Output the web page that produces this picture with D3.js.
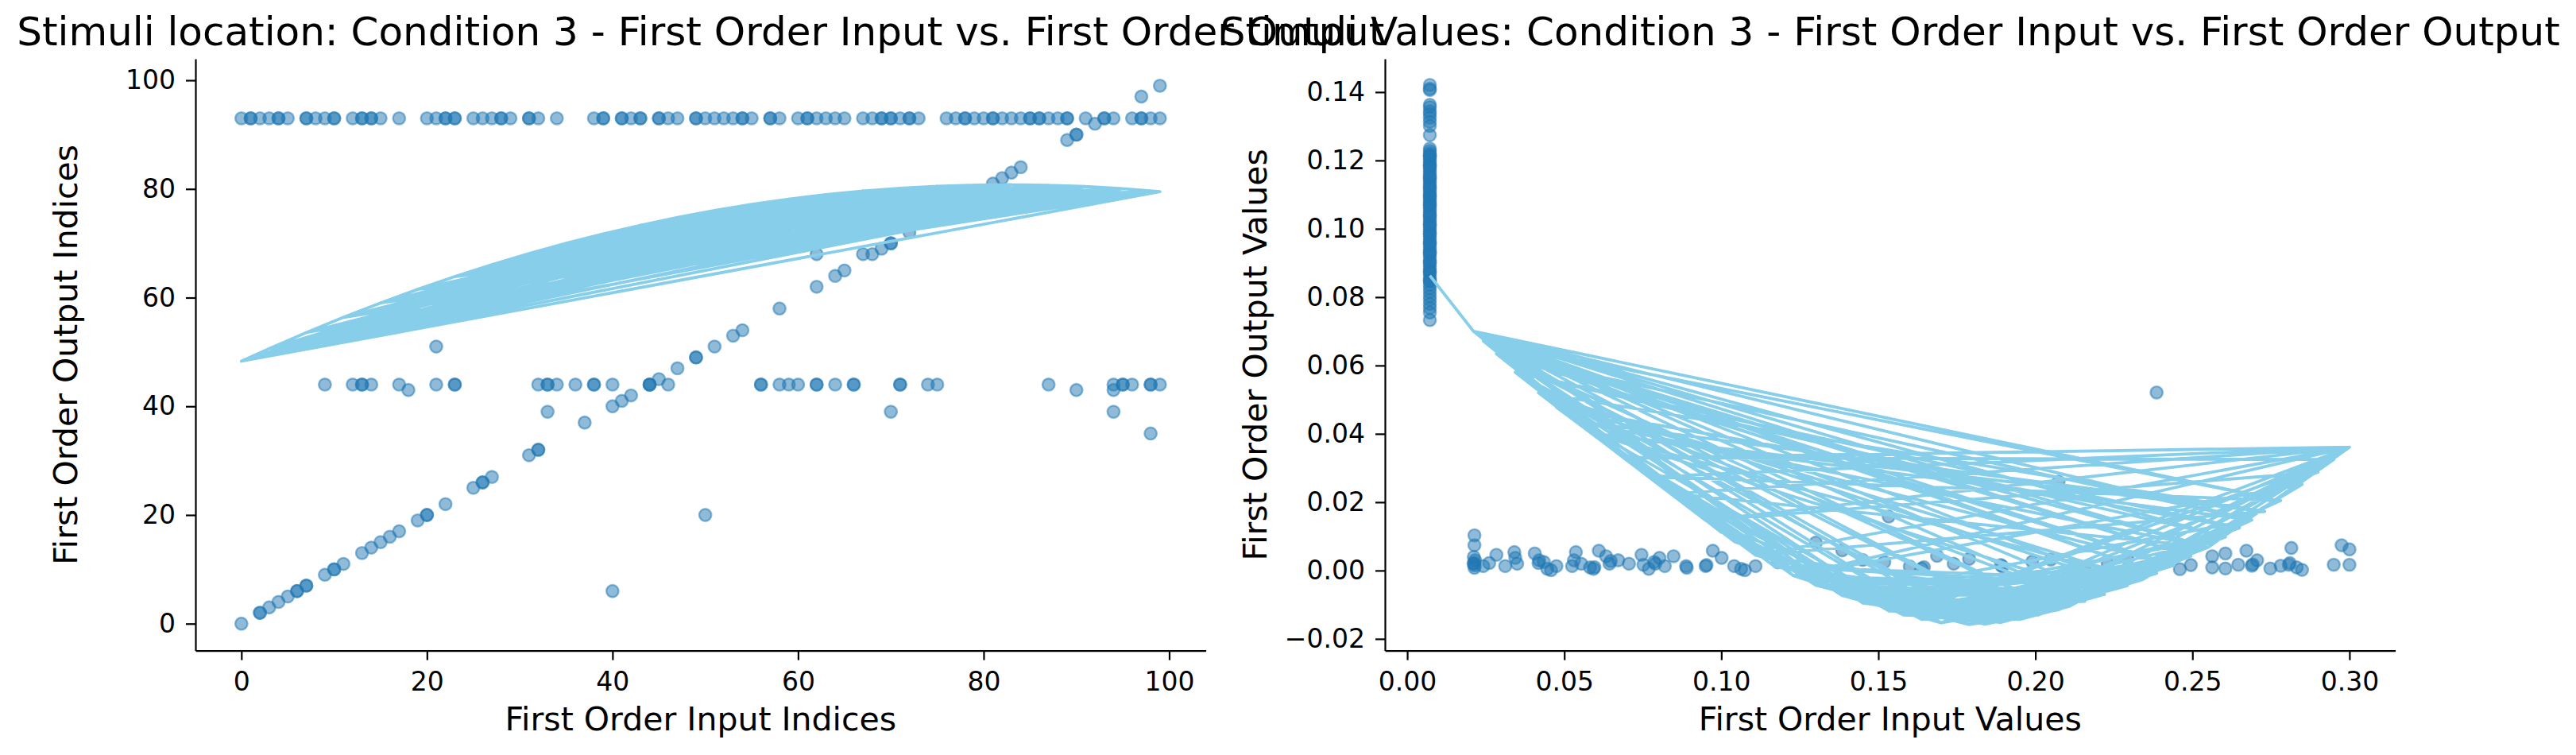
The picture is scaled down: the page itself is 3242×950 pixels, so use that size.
<!DOCTYPE html>
<html>
<head>
<meta charset="utf-8">
<script src="https://cdn.jsdelivr.net/npm/d3@7"></script>
<style>
  body { margin: 0; background: #fff; }
  text { font-family: "DejaVu Sans", sans-serif; fill: #000; }
</style>
</head>
<body>
<script>
// ---- left panel: stimuli location (indices) ----
const leftTopRowInput = [0,1,1,2,3,4,4,5,7,7,8,9,10,10,12,13,13,14,14,15,17,20,21,22,22,23,23,25,26,27,28,28,29,31,31,32,34,38,39,39,41,41,42,43,43,45,45,46,47,49,49,50,51,52,53,54,54,55,57,57,58,60,61,61,62,63,64,65,67,68,69,69,70,70,71,72,72,73,76,77,78,78,79,80,81,81,82,83,84,85,85,86,86,87,88,89,89,91,93,93,94,96,97,97,98,99];
const leftTopRowOutput = 93;
const leftMidRowInput = [9,12,13,13,14,17,21,23,23,32,33,33,34,36,38,38,40,44,44,46,56,56,58,59,60,62,62,64,66,66,71,71,74,75,87,94,95,95,96,98,98,99];
const leftMidRowOutput = 44;
const leftOtherInput  = [0,2,2,3,4,5,6,6,7,7,9,10,10,11,13,14,15,16,17,19,20,20,22,25,26,26,27,31,32,32,37,40,41,42,44,45,47,49,49,51,53,54,58,62,64,65,67,68,69,70,70,72,75,77,81,82,83,84,89,90,90,92,97,99,21,33,40,50,62,18,70,94,98,90,94];
const leftOtherOutput = [0,2,2,3,4,5,6,6,7,7,9,10,10,11,13,14,15,16,17,19,20,20,22,25,26,26,27,31,32,32,37,40,41,42,44,45,47,49,49,51,53,54,58,62,64,65,68,68,69,70,70,72,75,77,81,82,83,84,89,90,90,92,97,99,51,39,6,20,68,43,39,39,35,43,43];
// fitted curve read at these input indices, joined in plotting order
const leftFitInput  = [0,3,7,11,15,19,23,27,31,35,39,43,47,51,55,59,63,67,71,75,79,83,87,91,95,99];
const leftFitOutput = [48.30,50.62,53.57,56.37,59.02,61.52,63.87,66.06,68.10,69.99,71.73,73.31,74.74,76.02,77.15,78.13,78.95,79.62,80.14,80.50,80.72,80.78,80.69,80.44,80.05,79.50];
const leftFitOrder = [0,25,3,18,7,22,1,14,25,9,20,4,16,11,24,2,19,6,13,23,0,17,10,25,5,21,8,15,12,24,1,20,3,22,9,17,6,25,11,19,2,23,14,7,21,0,16,13,24,4,18,10,22,5,25,12,20,8,23,1,15,19,3,24,6,17,9,21,11,25,0,14,18,2,22,13,16,7,20,4,24,10,19,12,23,5,17,8,25,15,21,1,18,9,22,3,16,11,24,6,20,14,0,19,13,25,7,23,2,17,10,21,4,15,8,22,12,18,5,24,
  5,23,0,12,19,3,25,8,16,1,21,10,24,2,18,13,25,6,20,0,22,9,15,4,23,11,17,0,24,7,19,14,25,3,20,12,22,1,16,9,25,5,18,0,21,13,24,8,17,2,23,10,19,6,25,4,15,11,22,0,20,7,24,14,18,3,21,9,25,12,16,1,23,5,19,0,25,10,22,8,24,2,17,13,20,6,21,4,25,11,18,
  0,1,2,3,4,5,6,7,8,9,10,11,12,13,14,15,16,17,18,19,20,21,22,23,24,25];
const leftXTicks = [0,20,40,60,80,100];
const leftYTicks = [0,20,40,60,80,100];

// ---- right panel: stimuli values ----
const rightColumnInput = 0.0072;
const rightColumnOutput = [0.1421,0.1410,0.1406,0.1363,0.1356,0.1344,0.1336,0.1325,0.1313,0.1301,0.1274,
  0.1235,0.1228,0.1221,0.1215,0.1209,0.1202,0.1196,0.1188,0.1181,0.1175,0.1168,0.1160,0.1153,0.1147,0.1139,0.1132,0.1126,0.1119,0.1111,0.1104,0.1098,0.1090,0.1083,0.1077,0.1070,0.1062,0.1055,0.1049,0.1041,0.1034,0.1027,0.1020,0.1013,0.1006,0.0999,0.0992,0.0985,0.0977,0.0970,0.0962,0.0955,0.0947,0.0940,0.0932,0.0925,0.0917,0.0908,0.0899,0.0890,0.0882,0.0873,0.0864,0.0855,0.0846,0.0836,0.0826,0.0815,0.0803,0.0792,0.0780,0.0768,0.0755,0.0733,
  0.1214,0.1185,0.1150,0.1122,0.1095,0.1068,0.1040,0.1012,0.0985,0.0958,0.0930,0.0902,0.0875,0.0848];
const rightLowInput = [0.0214,0.0214,0.0212,0.0216,0.0213,0.0215,0.0214,0.0211,0.0242,0.0261,0.0284,0.0312,0.0341,0.0344,0.0350,0.0406,0.0418,0.0420,0.0435,0.0446,0.0458,0.0475,0.0525,0.0531,0.0537,0.0554,0.0582,0.0593,0.0596,0.0610,0.0633,0.0644,0.0648,0.0672,0.0706,0.0746,0.0752,0.0769,0.0786,0.0790,0.0803,0.0820,0.0848,0.0888,0.0890,0.0950,0.0953,0.0973,0.1001,0.1041,0.1063,0.1075,0.1109,0.1180,0.1301,0.1385,0.1450,0.1519,0.1533,0.1600,0.1638,0.1645,0.1687,0.1740,0.1789,0.1890,0.1895,0.1990,0.2049,0.2074,0.2158,0.2230,0.2293,0.2386,0.2460,0.2495,0.2563,0.2563,0.2605,0.2605,0.2646,0.2672,0.2689,0.2692,0.2706,0.2748,0.2781,0.2807,0.2810,0.2815,0.2832,0.2849,0.2950,0.2975,0.3000,0.3000];
const rightLowOutput = [0.0103,0.0074,0.0040,0.0030,0.0022,0.0015,0.0008,0.0020,0.0013,0.0022,0.0046,0.0013,0.0054,0.0037,0.0020,0.0050,0.0022,0.0030,0.0025,0.0005,0.0001,0.0013,0.0013,0.0030,0.0054,0.0020,0.0009,0.0005,0.0010,0.0058,0.0042,0.0020,0.0028,0.0030,0.0020,0.0046,0.0017,0.0005,0.0025,0.0020,0.0037,0.0013,0.0042,0.0013,0.0008,0.0013,0.0016,0.0058,0.0037,0.0013,0.0005,0.0001,0.0013,0.0024,0.0082,0.0059,0.0031,0.0025,0.0158,0.0012,0.0006,0.0010,0.0043,0.0020,0.0034,0.0016,0.0012,0.0026,0.0032,0.0260,0.0004,0.0020,0.0035,0.0521,0.0004,0.0016,0.0042,0.0009,0.0050,0.0006,0.0017,0.0058,0.0014,0.0018,0.0030,0.0006,0.0014,0.0017,0.0022,0.0066,0.0009,0.0002,0.0017,0.0074,0.0062,0.0017];
const rightFitInput  = [0.0072,0.0211,0.0242,0.0284,0.0344,0.0418,0.0475,0.0537,0.0593,0.0644,0.0706,0.0786,0.0848,0.0900,0.0950,0.1000,0.1041,0.1109,0.1170,0.1230,0.1301,0.1385,0.1450,0.1533,0.1580,0.1638,0.1700,0.1789,0.1840,0.1890,0.1950,0.2010,0.2074,0.2110,0.2158,0.2220,0.2293,0.2340,0.2386,0.2440,0.2495,0.2550,0.2605,0.2650,0.2689,0.2730,0.2781,0.2849,0.2900,0.2950,0.3000];
const rightFitOutput = [0.0863,0.0700,0.0672,0.0634,0.0580,0.0520,0.0478,0.0437,0.0401,0.0370,0.0330,0.0275,0.0225,0.0185,0.0147,0.0112,0.0085,0.0045,0.0012,-0.0015,-0.0043,-0.0073,-0.0095,-0.0118,-0.0130,-0.0143,-0.0153,-0.0158,-0.0157,-0.0152,-0.0143,-0.0130,-0.0115,-0.0104,-0.0090,-0.0070,-0.0044,-0.0027,-0.0008,0.0015,0.0042,0.0068,0.0098,0.0125,0.0148,0.0173,0.0205,0.0252,0.0288,0.0325,0.0361];
const rightFitOrder = [0,1,46,2,38,1,30,3,44,1,26,4,42,1,22,2,40,1,34,5,36,1,
  27,19,35,22,40,24,31,20,37,26,21,33,28,39,23,30,18,36,25,41,29,22,34,20,38,27,32,24,42,26,19,31,23,36,28,21,39,25,33,30,22,37,20,35,29,40,24,
  2,14,5,19,3,16,8,21,1,13,6,18,10,23,4,15,9,20,12,25,7,17,11,24,14,27,16,
  26,38,21,32,44,28,19,36,24,41,30,17,34,23,43,27,20,39,25,33,18,37,29,42,22,31,40,26,35,21,44,30,24,38,28,
  4,43,6,39,3,41,7,45,5,37,8,44,
  1,32,3,39,2,28,
  50,10,49,33,50,26,48,14,50,37,47,19,50,30,46,11,50,24,49,41,50,17,
  45,8,35,1,41,12,50];
const rightXTicks = [0,0.05,0.10,0.15,0.20,0.25,0.30];
const rightYTicks = [-0.02,0,0.02,0.04,0.06,0.08,0.10,0.12,0.14];

const W = 3242, H = 950;
const plotTop = 74, plotBottom = 818.6;
const pointColor = "#1f77b4", lineColor = "#87ceeb";

const svg = d3.select("body").append("svg")
    .attr("width", W)
    .attr("height", H);

function drawPanel(p) {
    const x = d3.scaleLinear().domain(p.xDomain).range([p.left, p.right]);
    const y = d3.scaleLinear().domain(p.yDomain).range([plotBottom, plotTop]);
    const g = svg.append("g");

    // scatter first, fit line on top
    g.append("g").selectAll("circle")
        .data(p.points)
        .join("circle")
        .attr("cx", d => x(d[0]))
        .attr("cy", d => y(d[1]))
        .attr("r", 7.7)
        .attr("fill", pointColor)
        .attr("fill-opacity", 0.5)
        .attr("stroke", pointColor)
        .attr("stroke-opacity", 0.5)
        .attr("stroke-width", 2.4);

    const line = d3.line()
        .x(i => x(p.fitX[i]))
        .y(i => y(p.fitY[i]));
    g.append("path")
        .attr("d", line(p.fitOrder))
        .attr("fill", "none")
        .attr("stroke", lineColor)
        .attr("stroke-width", 3.8)
        .attr("stroke-linejoin", "round");

    const xAxis = d3.axisBottom(x).tickValues(p.xTicks).tickFormat(p.xFmt)
        .tickSize(12).tickSizeOuter(0).tickPadding(15);
    const yAxis = d3.axisLeft(y).tickValues(p.yTicks).tickFormat(p.yFmt)
        .tickSize(12).tickSizeOuter(0).tickPadding(13);

    const gx = g.append("g").attr("transform", `translate(0,${plotBottom})`).call(xAxis);
    const gy = g.append("g").attr("transform", `translate(${p.left},0)`).call(yAxis);
    [gx, gy].forEach(a => {
        a.selectAll("path, line").attr("stroke", "#000").attr("stroke-width", 2.2);
        a.selectAll("text").attr("font-size", 33).attr("font-family", "DejaVu Sans");
    });

    g.append("text")
        .attr("x", (p.left + p.right) / 2)
        .attr("y", 919)
        .attr("text-anchor", "middle")
        .attr("font-size", 41)
        .text(p.xLabel);

    g.append("text")
        .attr("transform", `translate(${p.left - 149},${(plotTop + plotBottom) / 2}) rotate(-90)`)
        .attr("text-anchor", "middle")
        .attr("font-size", 41)
        .text(p.yLabel);

    g.append("text")
        .attr("x", (p.left + p.right) / 2)
        .attr("y", 57)
        .attr("text-anchor", "middle")
        .attr("font-size", 50)
        .text(p.title);
}

const leftPoints = leftTopRowInput.map(v => [v, leftTopRowOutput])
    .concat(leftMidRowInput.map(v => [v, leftMidRowOutput]))
    .concat(leftOtherInput.map((v, i) => [v, leftOtherOutput[i]]));

const rightPoints = rightColumnOutput.map(v => [rightColumnInput, v])
    .concat(rightLowInput.map((v, i) => [v, rightLowOutput[i]]));

drawPanel({
    left: 246, right: 1517.6,
    xDomain: [-4.95, 103.95], yDomain: [-4.95, 103.95],
    points: leftPoints,
    fitX: leftFitInput, fitY: leftFitOutput, fitOrder: leftFitOrder,
    xTicks: leftXTicks, yTicks: leftYTicks,
    xFmt: d3.format("d"), yFmt: d3.format("d"),
    xLabel: "First Order Input Indices",
    yLabel: "First Order Output Indices",
    title: "Stimuli location: Condition 3 - First Order Input vs. First Order Output"
});

drawPanel({
    left: 1743, right: 3014.6,
    xDomain: [-0.0071, 0.3146], yDomain: [-0.02342, 0.14974],
    points: rightPoints,
    fitX: rightFitInput, fitY: rightFitOutput, fitOrder: rightFitOrder,
    xTicks: rightXTicks, yTicks: rightYTicks,
    xFmt: d3.format(".2f"), yFmt: d3.format(".2f"),
    xLabel: "First Order Input Values",
    yLabel: "First Order Output Values",
    title: "Stimuli Values: Condition 3 - First Order Input vs. First Order Output"
});
</script>
</body>
</html>
